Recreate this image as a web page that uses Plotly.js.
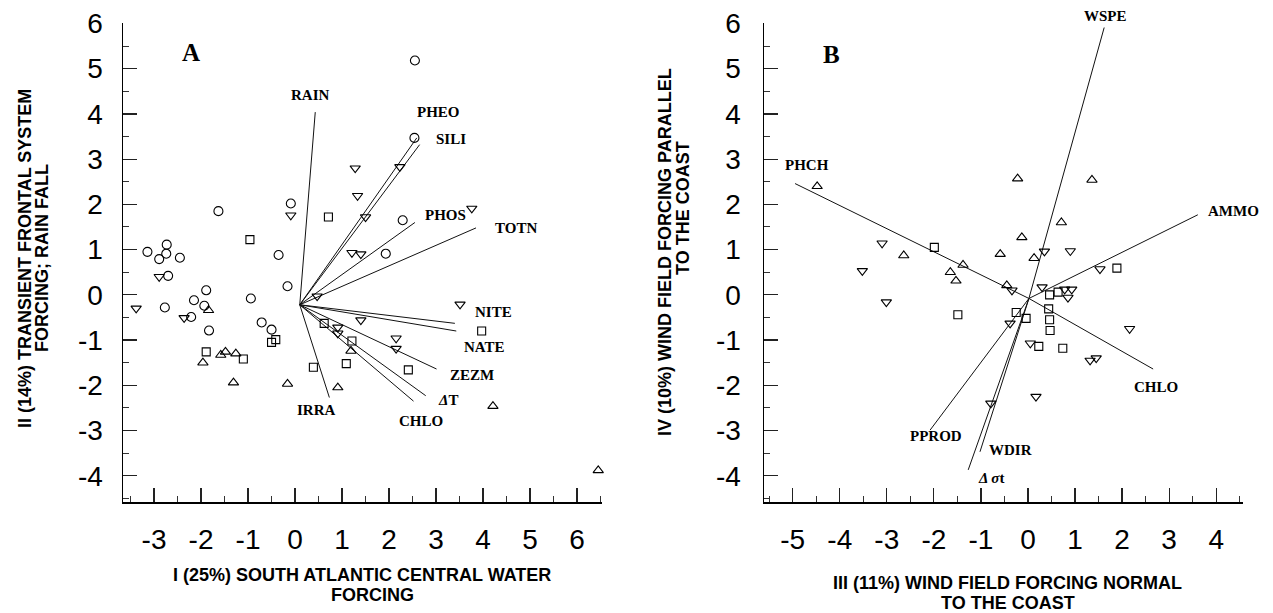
<!DOCTYPE html>
<html><head><meta charset="utf-8">
<script src="https://cdn.plot.ly/plotly-3.0.1.min.js"></script>
<style>html,body{margin:0;padding:0;background:#fff}#c{width:1273px;height:613px}</style>
</head><body><div id="c"></div>
<script>
// ---------- Panel A data ----------
const aCircleX = [-1.63,-0.09,-3.14,-2.73,-2.74,-2.89,-2.45,-0.35,-2.70,-0.16,-2.77,-1.89,-2.15,-0.94,-1.93,-2.21,-1.83,-0.71,-0.50,2.54,2.29,1.93,2.55];
const aCircleY = [1.85,2.02,0.95,1.11,0.91,0.79,0.82,0.88,0.42,0.19,-0.28,0.10,-0.12,-0.08,-0.24,-0.49,-0.79,-0.61,-0.77,3.47,1.65,0.91,5.18];
const aTriDownX = [-0.09,-2.89,-3.38,-2.36,2.23,1.28,1.33,1.50,3.76,1.21,1.40,0.47,3.51,1.40,0.91,0.91,2.15,2.15];
const aTriDownY = [1.76,0.40,-0.30,-0.51,2.83,2.80,2.19,1.72,1.91,0.93,0.90,-0.03,-0.21,-0.56,-0.72,-0.85,-0.96,-1.19];
const aSquareX = [-0.96,-0.50,-0.41,-1.89,-1.10,0.71,3.97,0.62,1.21,1.09,2.41,0.39];
const aSquareY = [1.22,-1.05,-0.99,-1.26,-1.42,1.72,-0.80,-0.63,-1.02,-1.52,-1.66,-1.60];
const aTriUpX = [-1.84,-1.96,-1.58,-1.48,-1.26,-1.31,-0.16,1.19,0.91,4.21,6.45];
const aTriUpY = [-0.34,-1.50,-1.33,-1.26,-1.30,-1.94,-1.97,-1.24,-2.05,-2.46,-3.88];

const aVecOrigin = [0.10,-0.22];
const aVecNames = ["RAIN","PHEO","SILI","PHOS","TOTN","NITE","NATE","ZEZM","<i>Δ</i>T","CHLO","IRRA"];
const aVecEndX = [0.43,2.59,2.65,2.55,3.85,3.40,3.43,3.01,2.78,2.52,0.73];
const aVecEndY = [4.04,3.47,3.32,1.60,1.48,-0.63,-0.80,-1.64,-2.23,-2.35,-2.27];
const aLabelX = [0.33,3.05,3.31,3.20,4.70,4.23,4.02,3.76,3.26,2.67,0.46];
const aLabelY = [4.41,4.04,3.45,1.76,1.48,-0.38,-1.15,-1.77,-2.32,-2.80,-2.55];

// ---------- Panel B data ----------
const bTriUpX = [-0.22,1.36,0.71,-0.13,-0.59,0.13,-2.64,-1.38,-1.65,-1.53,-0.45,-4.48];
const bTriUpY = [2.57,2.54,1.60,1.27,0.90,0.81,0.87,0.66,0.50,0.31,0.21,2.40];
const bTriDownX = [0.90,0.35,-3.10,-3.01,-3.52,-0.34,0.30,0.78,0.93,0.85,-0.38,0.05,2.16,0.17,-0.79,1.32,1.45,1.53];
const bTriDownY = [0.97,0.96,1.14,-0.16,0.53,0.10,0.17,0.12,0.12,-0.06,-0.63,-1.07,-0.75,-2.25,-2.40,-1.45,-1.40,0.57];
const bSquareX = [-1.99,-1.49,0.46,0.64,0.44,-0.25,-0.04,0.46,0.47,0.23,0.74,1.89];
const bSquareY = [1.05,-0.44,0.00,0.06,-0.31,-0.39,-0.52,-0.55,-0.79,-1.14,-1.18,0.59];

const bVecOrigin = [0.02,-0.08];
const bVecNames = ["WSPE","PHCH","AMMO","CHLO","PPROD","WDIR","<i>Δ σ</i>t"];
const bVecEndX = [1.62,-4.95,3.61,2.66,-2.08,-1.02,-1.27];
const bVecEndY = [5.91,2.46,1.77,-1.64,-2.99,-3.47,-3.87];
const bLabelX = [1.65,-4.69,4.37,2.72,-1.96,-0.37,-0.78];
const bLabelY = [6.16,2.88,1.86,-2.03,-3.13,-3.43,-4.06];

// ---------- ticks ----------
const aXTicks = [-3,-2,-1,0,1,2,3,4,5,6];
const aXTickText = ["-3","-2","-1","0","1","2","3","4","5","6"];
const yTicks = [-4,-3,-2,-1,0,1,2,3,4,5,6];
const yTickText = ["-4","-3","-2","-1","0","1","2","3","4","5","6"];
const bXTicks = [-5,-4,-3,-2,-1,0,1,2,3,4];
const bXTickText = ["-5","-4","-3","-2","-1","0","1","2","3","4"];

// ---------- text ----------
const aYTitle = ["II (14%) TRANSIENT FRONTAL SYSTEM","FORCING; RAIN FALL"];
const aXTitle = ["I (25%) SOUTH ATLANTIC CENTRAL WATER","FORCING"];
const bYTitle = ["IV (10%) WIND FIELD FORCING PARALLEL","TO THE COAST"];
const bXTitle = ["III (11%) WIND FIELD FORCING NORMAL","TO THE COAST"];

const W = 1273, H = 613;
// axis frames in pixels
const yTop = 23, yBot = 502;
const aLeft = 123, aRight = 602, bLeft = 764, bRight = 1243;
const yRange = [-4.58, 6.01];
const aXRange = [-3.66, 6.53], bXRange = [-5.61, 4.57];

function vecTrace(o, ex, ey, xa, ya){
  const x=[], y=[];
  for(let i=0;i<ex.length;i++){ x.push(o[0],ex[i],null); y.push(o[1],ey[i],null); }
  return {x, y, xaxis:xa, yaxis:ya, mode:'lines', type:'scatter', line:{color:'#111', width:1}, hoverinfo:'skip'};
}
function mk(x,y,sym,size,xa,ya){
  return {x, y, xaxis:xa, yaxis:ya, mode:'markers', type:'scatter', cliponaxis:false,
    marker:{symbol:sym, size:size, color:'#000', line:{color:'#000', width:1.1}}};
}

const traces = [
  vecTrace(aVecOrigin,aVecEndX,aVecEndY,'x','y'),
  mk(aCircleX,aCircleY,'circle-open',9,'x','y'),
  mk(aTriDownX,aTriDownY,'triangle-down-open',9,'x','y'),
  mk(aSquareX,aSquareY,'square-open',8,'x','y'),
  mk(aTriUpX,aTriUpY,'triangle-up-open',9,'x','y'),
  vecTrace(bVecOrigin,bVecEndX,bVecEndY,'x2','y2'),
  mk(bTriUpX,bTriUpY,'triangle-up-open',9,'x2','y2'),
  mk(bTriDownX,bTriDownY,'triangle-down-open',9,'x2','y2'),
  mk(bSquareX,bSquareY,'square-open',8,'x2','y2')
];

const tickFont = {family:'Arial, "Liberation Sans", sans-serif', size:28, color:'#000'};
const minorTicks = {tickmode:'linear', tick0:0, dtick:0.5, ticks:'inside', ticklen:6, tickwidth:1, tickcolor:'#333', showgrid:false};
function xax(domain, range, tv, tt, anchor){
  return {domain, range, anchor, showline:true, linecolor:'#000', linewidth:1.5, mirror:false,
    ticks:'inside', ticklen:14, tickwidth:1.2, tickcolor:'#222', tickmode:'array', tickvals:tv, ticktext:tt,
    tickfont:tickFont, showgrid:false, zeroline:false, ticklabelstandoff:12, minor:minorTicks};
}
function yax(domain, range, anchor, standoff){
  return {domain, range, anchor, showline:true, linecolor:'#000', linewidth:1.5, mirror:false,
    ticks:'inside', ticklen:14, tickwidth:1.2, tickcolor:'#222', tickmode:'array', tickvals:yTicks, ticktext:yTickText,
    tickfont:tickFont, showgrid:false, zeroline:false, ticklabelstandoff:standoff, minor:minorTicks};
}

const serif = {family:'"Liberation Serif", "Times New Roman", serif', size:15, color:'#000', weight:'bold'};
const annotations = [];
function paperX(px){ return px/W; }
function paperY(py){ return 1-py/H; }
function dataToPx(v, r, p0, p1){ return p0 + (v-r[0])/(r[1]-r[0])*(p1-p0); }
function addVecLabel(text, x, y, xr, xa, ya, left, right){
  // labels beyond the axis range are placed in paper coordinates so they stay visible
  if (y > yRange[1] || y < yRange[0]) {
    const px = dataToPx(x, xr, left, right);
    const py = dataToPx(y, yRange, yBot, yTop);
    annotations.push({x:paperX(px), y:paperY(py), xref:'paper', yref:'paper', text, showarrow:false, font:serif, xanchor:'center', yanchor:'middle'});
  } else {
    annotations.push({x, y, xref:xa, yref:ya, text, showarrow:false, font:serif, xanchor:'center', yanchor:'middle'});
  }
}
aVecNames.forEach((n,i)=>addVecLabel(n, aLabelX[i], aLabelY[i], aXRange, 'x', 'y', aLeft, aRight));
bVecNames.forEach((n,i)=>addVecLabel(n, bLabelX[i], bLabelY[i], bXRange, 'x2', 'y2', bLeft, bRight));
annotations.push({x:-2.22, y:5.36, xref:'x', yref:'y', text:'A', showarrow:false, font:{family:serif.family, size:25, color:'#000', weight:'bold'}});
annotations.push({x:-4.17, y:5.31, xref:'x2', yref:'y2', text:'B', showarrow:false, font:{family:serif.family, size:25, color:'#000', weight:'bold'}});

const titleFont = {family:'Arial, "Liberation Sans", sans-serif', size:18, color:'#000', weight:'bold'};
function ttl(text, px, py, rot){
  annotations.push({x:paperX(px), y:paperY(py), xref:'paper', yref:'paper', text, showarrow:false,
    font:titleFont, textangle:rot, xanchor:'center', yanchor:'middle'});
}
ttl(aYTitle[0], 24.5, 258.5, -90);
ttl(aYTitle[1], 42, 258, -90);
ttl(aXTitle[0], 362, 575, 0);
ttl(aXTitle[1], 372, 595, 0);
ttl(bYTitle[0], 665, 252, -90);
ttl(bYTitle[1], 683, 208, -90);
ttl(bXTitle[0], 1007.5, 583, 0);
ttl(bXTitle[1], 1008, 603, 0);

const layout = {
  width:W, height:H, margin:{l:0,r:0,t:0,b:0}, paper_bgcolor:'#fff', plot_bgcolor:'#fff', showlegend:false,
  xaxis: xax([aLeft/W, aRight/W], aXRange, aXTicks, aXTickText, 'y'),
  yaxis: yax([1-yBot/H, 1-yTop/H], yRange, 'x', 13),
  xaxis2: xax([bLeft/W, bRight/W], bXRange, bXTicks, bXTickText, 'y2'),
  yaxis2: yax([1-yBot/H, 1-yTop/H], yRange, 'x2', 16),
  annotations
};
Plotly.newPlot('c', traces, layout, {displayModeBar:false, staticPlot:true});
</script></body></html>
